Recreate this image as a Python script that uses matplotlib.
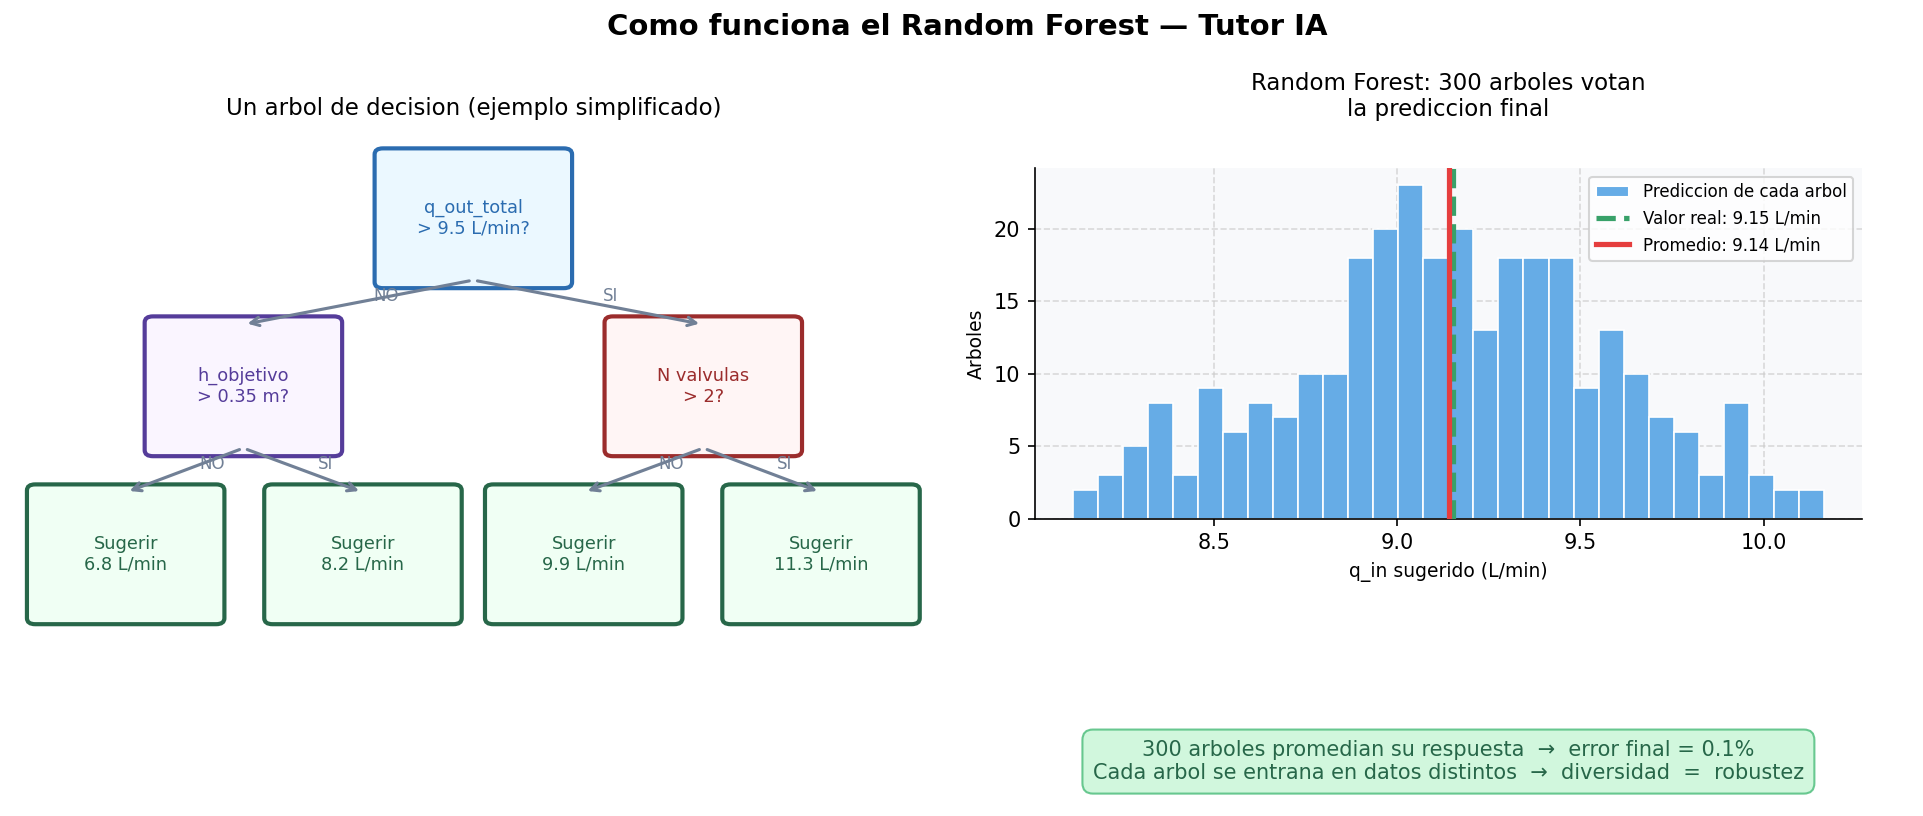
import numpy as np
import matplotlib
matplotlib.use("Agg")
import matplotlib.pyplot as plt
from matplotlib.patches import FancyBboxPatch
from matplotlib.lines import Line2D
from matplotlib.patches import Patch

# histogram data (300 trees)
counts = [2, 3, 5, 8, 3, 9, 6, 8, 7, 10, 10, 18, 20, 23, 18,
          20, 13, 18, 18, 18, 9, 13, 10, 7, 6, 3, 8, 3, 2, 2]
bin_lo, bin_hi = 8.115, 10.165
valor_real = 9.153
promedio = 9.142

# decision tree
node_text = ["q_out_total\n> 9.5 L/min?", "h_objetivo\n> 0.35 m?", "N valvulas\n> 2?",
             "Sugerir\n6.8 L/min", "Sugerir\n8.2 L/min", "Sugerir\n9.9 L/min", "Sugerir\n11.3 L/min"]
node_x = [5.0, 2.5, 7.5, 1.22, 3.8, 6.2, 8.78]
node_y = [8.65, 6.15, 6.15, 3.65, 3.65, 3.65, 3.65]
node_edge = ["#2b6cb0", "#553c9a", "#9b2c2c", "#276749", "#276749", "#276749", "#276749"]
node_face = ["#ebf8ff", "#faf5ff", "#fff5f5", "#f0fff4", "#f0fff4", "#f0fff4", "#f0fff4"]
edges = [(0, 1, "NO"), (0, 2, "SI"), (1, 3, "NO"), (1, 4, "SI"), (2, 5, "NO"), (2, 6, "SI")]

fig = plt.figure(figsize=(12.82, 5.44), dpi=150)
fig.text(0.503, 0.967, "Como funciona el Random Forest \u2014 Tutor IA",
         ha="center", va="center", fontsize=14, fontweight="bold")

# ---- left: tree ----
ax1 = fig.add_axes([0.007, 0.0201, 0.4783, 0.8236])
ax1.set_xlim(0, 10)
ax1.set_ylim(0, 10)
ax1.axis("off")
ax1.set_title("Un arbol de decision (ejemplo simplificado)", fontsize=11)

bw, bh = 2.107, 2.04
for i in range(len(node_text)):
    box = FancyBboxPatch((node_x[i] - bw / 2, node_y[i] - bh / 2), bw, bh,
                         boxstyle="round,pad=0.02,rounding_size=0.09",
                         fc=node_face[i], ec=node_edge[i], lw=2)
    ax1.add_patch(box)
    ax1.text(node_x[i], node_y[i], node_text[i], ha="center", va="center",
             fontsize=8.5, color=node_edge[i])

for p, c, lab in edges:
    x0, y0 = node_x[p], node_y[p] - 0.92
    x1, y1 = node_x[c], node_y[c] + 0.92
    ax1.annotate("", xy=(x1, y1), xytext=(x0, y0),
                 arrowprops=dict(arrowstyle="->", color="#718096", lw=1.5))
    mx, my = (x0 + x1) / 2, (y0 + y1) / 2
    ax1.text(mx + 0.16, my + 0.1, lab, ha="left", va="center", fontsize=8, color="#718096")

# ---- right: histogram ----
ax2 = fig.add_axes([0.5382, 0.3643, 0.4299, 0.4294])
ax2.set_facecolor("#f8f9fb")
bins = np.linspace(bin_lo, bin_hi, len(counts) + 1)
ax2.bar(bins[:-1], counts, width=np.diff(bins), align="edge",
        color="#66ace6", edgecolor="white", linewidth=0.8, zorder=2)
ax2.axvline(valor_real, color="#38a169", ls="--", lw=2.5, zorder=3)
ax2.axvline(promedio, color="#e53e3e", lw=2.5, zorder=4)
ax2.grid(True, ls="--", color="#cccccc", alpha=0.7, zorder=0)
ax2.set_axisbelow(True)
ax2.spines["top"].set_visible(False)
ax2.spines["right"].set_visible(False)
ax2.set_xlabel("q_in sugerido (L/min)", fontsize=9)
ax2.set_ylabel("Arboles", fontsize=9)
ax2.set_title("Random Forest: 300 arboles votan\nla prediccion final", fontsize=11, pad=25)

handles = [Patch(fc="#66ace6", ec="white"),
           Line2D([], [], color="#38a169", ls="--", lw=2.5),
           Line2D([], [], color="#e53e3e", lw=2.5)]
labels = ["Prediccion de cada arbol", "Valor real: 9.15 L/min", "Promedio: 9.14 L/min"]
ax2.legend(handles, labels, loc="upper right", fontsize=8)

fig.text(0.7532, 0.0667,
         "300 arboles promedian su respuesta  \u2192  error final = 0.1%\n"
         "Cada arbol se entrana en datos distintos  \u2192  diversidad  =  robustez",
         ha="center", va="center", fontsize=10, color="#276749",
         bbox=dict(boxstyle="round,pad=0.5", fc="#c6f6d5", ec="#48bb78", lw=1, alpha=0.8))

fig.savefig("out.png", dpi=150)
